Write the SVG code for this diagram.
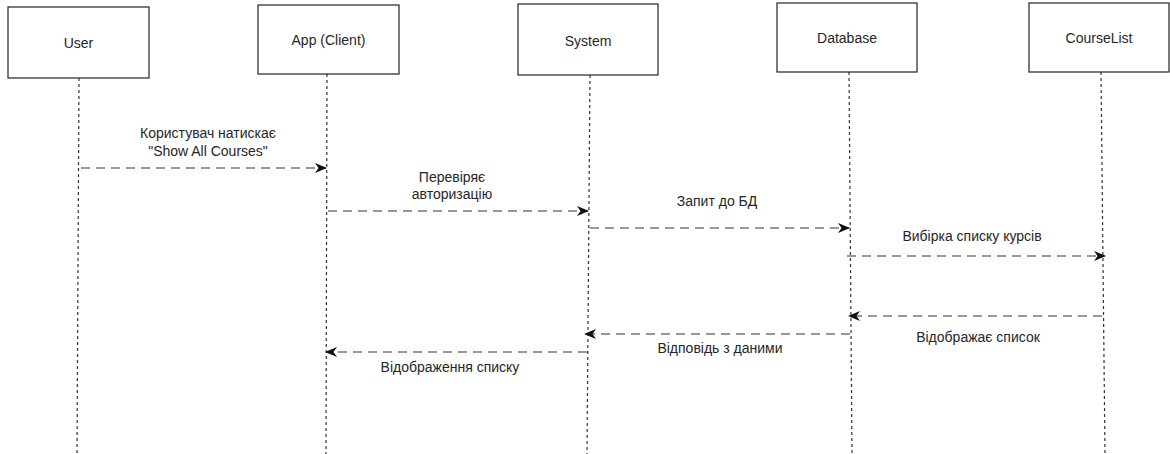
<svg xmlns="http://www.w3.org/2000/svg" width="1170" height="454" viewBox="0 0 1170 454">
<style>
.box{fill:#fff;stroke:#333;stroke-width:1.3}
.life{stroke:#333;stroke-width:1.2;stroke-dasharray:3 3;fill:none}
.msg{stroke:#333;stroke-width:1.2;stroke-dasharray:9 6;fill:none}
text{font-family:"Liberation Sans",Arial,sans-serif;font-size:14px;fill:#262626;text-anchor:middle}
</style>
<defs>
<marker id="ah" viewBox="0 0 12 10" refX="11" refY="5" markerWidth="12" markerHeight="10" markerUnits="userSpaceOnUse" orient="auto">
<path d="M0,0 L12,5 L0,10 L3.5,5 Z" fill="#111"/>
</marker>
</defs>
<g id="user">
<rect class="box" x="8" y="7" width="141" height="71"/>
<text x="78.5" y="48">User</text>
<line class="life" x1="79" y1="78" x2="77" y2="454"/>
</g>
<g id="app">
<rect class="box" x="258" y="5" width="141" height="69"/>
<text x="328.5" y="45">App (Client)</text>
<line class="life" x1="327" y1="74" x2="326" y2="454"/>
</g>
<g id="system">
<rect class="box" x="518" y="4" width="140" height="71"/>
<text x="588" y="46">System</text>
<line class="life" x1="590" y1="75" x2="587" y2="454"/>
</g>
<g id="database">
<rect class="box" x="777" y="3" width="140" height="69"/>
<text x="847" y="43">Database</text>
<line class="life" x1="849" y1="72" x2="852" y2="454"/>
</g>
<g id="courselist">
<rect class="box" x="1029" y="3" width="140" height="69"/>
<text x="1099" y="43">CourseList</text>
<line class="life" x1="1101" y1="72" x2="1105" y2="454"/>
</g>
<g id="connectors">
<line class="msg" x1="81" y1="168" x2="326" y2="168" marker-end="url(#ah)"/>
<text x="208" y="138">Користувач натискає</text>
<text x="208" y="156">"Show All Courses"</text>
<line class="msg" x1="328" y1="211" x2="588" y2="211" marker-end="url(#ah)"/>
<text x="452" y="182">Перевіряє</text>
<text x="452" y="199">авторизацію</text>
<line class="msg" x1="590" y1="228" x2="849" y2="228" marker-end="url(#ah)"/>
<text x="717" y="206">Запит до БД</text>
<line class="msg" x1="847" y1="256" x2="1105" y2="256" marker-end="url(#ah)"/>
<text x="972" y="241">Вибірка списку курсів</text>
<line class="msg" x1="1102" y1="316" x2="849" y2="316" marker-end="url(#ah)"/>
<text x="978" y="342">Відображає список</text>
<line class="msg" x1="850" y1="334" x2="585" y2="334" marker-end="url(#ah)"/>
<text x="720" y="353">Відповідь з даними</text>
<line class="msg" x1="587" y1="352" x2="326" y2="352" marker-end="url(#ah)"/>
<text x="450" y="372">Відображення списку</text>
</g>
</svg>
